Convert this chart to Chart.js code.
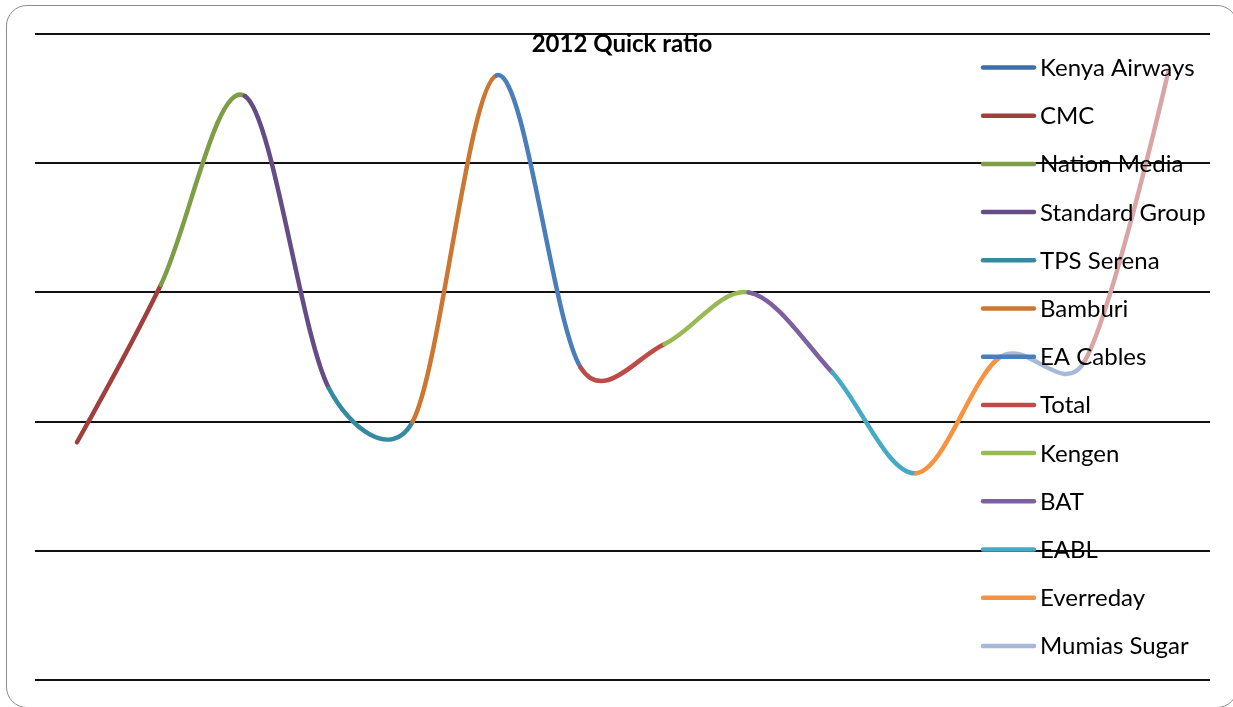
<!DOCTYPE html>
<html>
<head>
<meta charset="utf-8">
<title>2012 Quick ratio</title>
<script src="https://cdn.jsdelivr.net/npm/chart.js@4.4.1/dist/chart.umd.min.js"></script>
<style>
  html, body { margin: 0; padding: 0; background: #fff; overflow: hidden; }
  #wrap { position: relative; width: 1233px; height: 707px; overflow: hidden; }
  #frame {
    position: absolute; left: 6px; top: 5px; width: 1232px; height: 703px;
    border: 1.5px solid #8c8c8c; border-radius: 21px; box-sizing: border-box;
  }
  #chart { position: absolute; left: 0; top: 0; }
</style>
</head>
<body>
<div id="wrap">
  <div id="frame"></div>
  <canvas id="chart" width="1233" height="707"></canvas>
</div>
<script>
// companies shown in the legend
const companies = [
  "Kenya Airways", "CMC", "Nation Media", "Standard Group", "TPS Serena",
  "Bamburi", "EA Cables", "Total", "Kengen", "BAT", "EABL", "Everreday",
  "Mumias Sugar"
];
// the series has one more point than the legend has room for
const categories = [...companies, ""];
const quickRatio = [0.92, 1.53, 2.26, 1.13, 1.00, 2.34, 1.21, 1.30, 1.50, 1.19, 0.80, 1.25, 1.23, 2.35];
const pointColors = [
  "#3c6ea8", "#a0403d", "#7e9d46", "#654c86", "#348aa0", "#cb7731", "#4a7ebb",
  "#be4b48", "#98b954", "#7d60a0", "#46aac5", "#f69240", "#a7b9d8", "#d9a5a4"
];
const yTicks = [0, 0.5, 1, 1.5, 2, 2.5];

const legendFont = "24px Lato";
const titleFont = "bold 24px Lato";

// Excel-like smoothing: tangent = (next - prev) / 6, handle capped at half the segment
const smoothing = {
  id: "smoothing",
  beforeDatasetsDraw(chart) {
    const meta = chart.getDatasetMeta(0);
    const pts = meta.data;
    const n = pts.length;
    const dist = (a, b) => Math.hypot(b.x - a.x, b.y - a.y);
    for (let i = 0; i < n; i++) {
      const p = pts[i];
      if (i === 0 || i === n - 1) {
        p.cp1x = p.cp2x = p.x;
        p.cp1y = p.cp2y = p.y;
        continue;
      }
      const prev = pts[i - 1], next = pts[i + 1];
      const tx = (next.x - prev.x) / 6, ty = (next.y - prev.y) / 6;
      const len = Math.hypot(tx, ty) || 1;
      const kPrev = Math.min(1, 0.5 * dist(prev, p) / len);
      const kNext = Math.min(1, 0.5 * dist(p, next) / len);
      p.cp1x = p.x - tx * kPrev;
      p.cp1y = p.y - ty * kPrev;
      p.cp2x = p.x + tx * kNext;
      p.cp2y = p.y + ty * kNext;
    }
    meta.dataset._pointsUpdated = true;
  }
};

// legend + title sit inside the plot area, drawn over the line
const overlay = {
  id: "overlay",
  afterDraw(chart) {
    const ctx = chart.ctx;
    ctx.save();
    ctx.fillStyle = "#000";
    ctx.font = titleFont;
    ctx.textAlign = "center";
    ctx.textBaseline = "alphabetic";
    ctx.fillText("2012 Quick ratio", 622, 52);

    ctx.font = legendFont;
    ctx.textAlign = "left";
    ctx.lineCap = "round";
    ctx.lineWidth = 4.5;
    companies.forEach((name, i) => {
      const y = 67.5 + i * 48.2;
      ctx.strokeStyle = pointColors[i];
      ctx.beginPath();
      ctx.moveTo(983, y);
      ctx.lineTo(1034, y);
      ctx.stroke();
      ctx.fillText(name, 1040, y + 8.5);
    });
    ctx.restore();
  }
};

new Chart(document.getElementById("chart"), {
  type: "line",
  data: {
    labels: categories,
    datasets: [{
      data: quickRatio,
      borderWidth: 4.5,
      borderCapStyle: "round",
      borderJoinStyle: "round",
      pointRadius: 0,
      tension: 0.4,
      borderColor: pointColors[0],
      segment: {
        borderColor: c => pointColors[c.p1DataIndex]
      }
    }]
  },
  options: {
    responsive: false,
    animation: false,
    events: [],
    layout: { padding: { left: 35, right: 23, top: 34, bottom: 27 } },
    plugins: {
      legend: { display: false },
      title: { display: false },
      tooltip: { enabled: false }
    },
    scales: {
      x: {
        offset: true,
        ticks: { display: false },
        grid: { display: false, drawTicks: false },
        border: { display: false },
        afterFit: s => { s.height = 0; }
      },
      y: {
        min: 0,
        max: 2.5,
        afterBuildTicks: s => { s.ticks = yTicks.map(v => ({ value: v })); },
        ticks: { display: false },
        grid: { color: "#111", lineWidth: 2, drawTicks: false },
        border: { display: false },
        afterFit: s => { s.width = 0; }
      }
    }
  },
  plugins: [smoothing, overlay]
});
</script>
</body>
</html>
